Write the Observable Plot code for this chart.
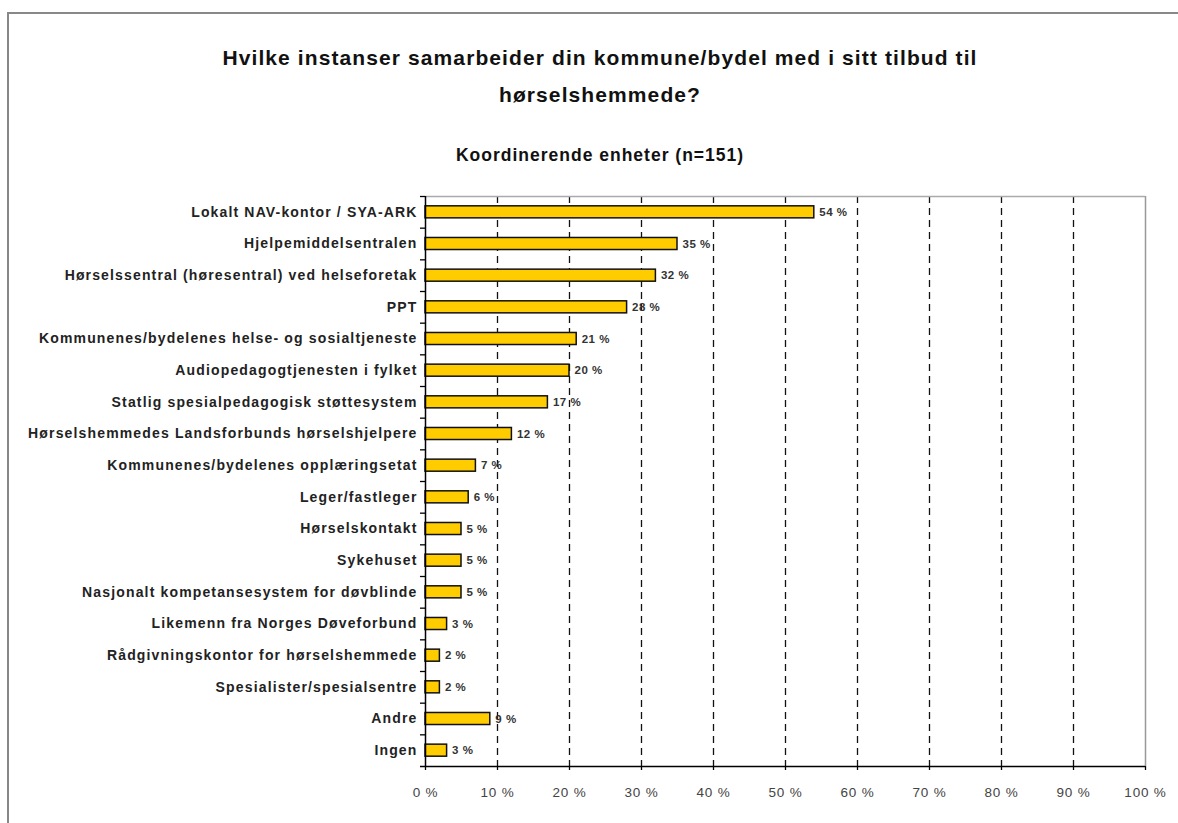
<!DOCTYPE html>
<html><head><meta charset="utf-8">
<script src="https://cdn.jsdelivr.net/npm/d3@7"></script>
<script src="https://cdn.jsdelivr.net/npm/@observablehq/plot@0.6"></script>
<style>
body{margin:0;background:#fff;}
#wrap{position:relative;width:1178px;height:823px;overflow:hidden;font-family:"Liberation Sans",Arial,sans-serif;}
#border{position:absolute;left:7px;top:12px;width:1300px;height:900px;border-left:2px solid #888;border-top:2px solid #888;}
.title{position:absolute;left:100px;width:1000px;text-align:center;font-weight:bold;color:#111;}
#t1{top:39px;font-size:21px;line-height:37px;letter-spacing:1.1px;}
#t2{top:145px;font-size:17.5px;line-height:20px;letter-spacing:1px;}
#chart{position:absolute;left:0;top:0;}
#chart g[aria-label="y-axis tick label"] text{letter-spacing:1.15px;}
#chart g[aria-label="x-axis tick label"] text{letter-spacing:0.8px;}
#chart g[aria-label="text"] text{letter-spacing:0.5px;}
</style></head>
<body>
<div id="wrap">
  <div id="border"></div>
  <div class="title" id="t1">Hvilke instanser samarbeider din kommune/bydel med i sitt tilbud til<br>hørselshemmede?</div>
  <div class="title" id="t2">Koordinerende enheter (n=151)</div>
  <div id="chart"></div>
</div>
<script>
const categories = [
  "Lokalt NAV-kontor / SYA-ARK",
  "Hjelpemiddelsentralen",
  "Hørselssentral (høresentral) ved helseforetak",
  "PPT",
  "Kommunenes/bydelenes helse- og sosialtjeneste",
  "Audiopedagogtjenesten i fylket",
  "Statlig spesialpedagogisk støttesystem",
  "Hørselshemmedes Landsforbunds hørselshjelpere",
  "Kommunenes/bydelenes opplæringsetat",
  "Leger/fastleger",
  "Hørselskontakt",
  "Sykehuset",
  "Nasjonalt kompetansesystem for døvblinde",
  "Likemenn fra Norges Døveforbund",
  "Rådgivningskontor for hørselshemmede",
  "Spesialister/spesialsentre",
  "Andre",
  "Ingen"
];
const values = [54, 35, 32, 28, 21, 20, 17, 12, 7, 6, 5, 5, 5, 3, 2, 2, 9, 3];
const xTicks = [0, 10, 20, 30, 40, 50, 60, 70, 80, 90, 100];
const gridTicks = [10, 20, 30, 40, 50, 60, 70, 80, 90];

const data = categories.map((c, i) => ({cat: c, v: values[i]}));
const W = 1178, H = 823, mL = 425, mR = 33, mT = 196, mB = 57;
const step = (H - mT - mB) / categories.length;

const chart = Plot.plot({
  width: W, height: H,
  marginLeft: mL, marginRight: mR, marginTop: mT, marginBottom: mB,
  style: {fontFamily: "'Liberation Sans', Arial, sans-serif", background: "transparent", overflow: "visible", color: "#222"},
  x: {domain: [0, 100]},
  y: {domain: categories, paddingInner: 0.62, paddingOuter: 0.31, round: false},
  marks: [
    Plot.ruleX(gridTicks, {x: d => d, stroke: "#111", strokeWidth: 1.3, strokeDasharray: "7,5"}),
    Plot.ruleX([100], {stroke: "#999", strokeWidth: 1.5}),
    Plot.ruleY([categories[0]], {y: d => d, x1: 0, x2: 100, dy: -step / 2, stroke: "#aaa", strokeWidth: 1.5}),
    Plot.barX(data, {x: "v", y: "cat", fill: "#FFCC00", stroke: "#111", strokeWidth: 1.5}),
    Plot.text(data, {x: "v", y: "cat", text: d => d.v + " %", textAnchor: "start", dx: 5, fontSize: 11.5, fontWeight: "bold", fill: "#333"}),
    Plot.ruleY(categories, {y: d => d, x1: -0.7, x2: 0, dy: -step / 2, stroke: "#000", strokeWidth: 1.3}),
    Plot.ruleY([categories[categories.length - 1]], {y: d => d, x1: -0.7, x2: 100, dy: step / 2, stroke: "#000", strokeWidth: 1.5}),
    Plot.ruleX([0], {stroke: "#000", strokeWidth: 1.5}),
    Plot.axisX(xTicks, {anchor: "bottom", tickFormat: d => d + " %", tickSize: 4, tickPadding: 17, fontSize: 13.5, fill: "#444", stroke: "#000", strokeWidth: 1.3, label: null}),
    Plot.axisY({tickSize: 0, tickPadding: 8, fontSize: 14, fontWeight: "bold", fill: "#222", label: null})
  ]
});
document.getElementById("chart").appendChild(chart);
</script>
</body></html>
